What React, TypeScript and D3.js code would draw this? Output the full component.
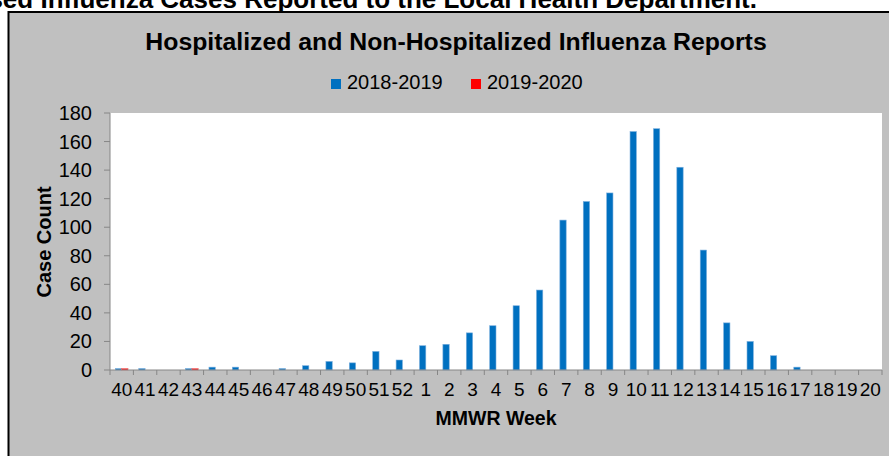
import React from "react"
import * as d3 from "d3"

const W = 889
const H = 456

const weeks = [
  "40", "41", "42", "43", "44", "45", "46", "47", "48", "49", "50", "51", "52",
  "1", "2", "3", "4", "5", "6", "7", "8", "9", "10", "11", "12", "13", "14",
  "15", "16", "17", "18", "19", "20",
]
const series = ["2018-2019", "2019-2020"]
const cases1819 = [
  1, 1, 0, 1, 2, 2, 0, 1, 3, 6, 5, 13, 7,
  17, 18, 26, 31, 45, 56, 105, 118, 124, 167, 169, 142, 84, 33,
  20, 10, 2, 0, 0, 0,
]
const cases1920 = [
  1, 0, 0, 1, 0, 0, 0, 0, 0, 0, 0, 0, 0,
  0, 0, 0, 0, 0, 0, 0, 0, 0, 0, 0, 0, 0, 0,
  0, 0, 0, 0, 0, 0,
]
const yTicks = [0, 20, 40, 60, 80, 100, 120, 140, 160, 180]
const colors = ["#0070C0", "#FF0000"]
const strokes = ["#79AEDD", "#F07070"]

const font = "'Liberation Sans', Arial, sans-serif"

export default function App() {
  const plot = { left: 110, right: 882, top: 113, bottom: 370 }
  const x = d3.scaleBand<string>()
    .domain(weeks)
    .range([plot.left, plot.right])
    .paddingInner(0.46)
    .paddingOuter(0.23)
  const step = x.step()
  const xSub = d3.scaleBand<string>().domain(series).range([0, x.bandwidth()])
  const y = d3.scaleLinear().domain([0, 180]).range([plot.bottom, plot.top])
  const values = [cases1819, cases1920]

  return (
    <svg width={W} height={H} style={{ position: "absolute", left: 0, top: 0 }} fontFamily={font}>
      <rect x={0} y={0} width={W} height={H} fill="#fff" />
      <text x={757} y={7.5} textAnchor="end" fontSize={26} fontWeight="bold" fill="#000">
        Number of Laboratory-Diagnosed Influenza Cases Reported to the Local Health Department.
      </text>
      <rect x={8.5} y={12} width={W + 20} height={H + 20} fill="#C0C0C0" stroke="#000" strokeWidth={2} />

      <text x={456} y={50} textAnchor="middle" fontSize={24.8} fontWeight="bold" fill="#000">
        Hospitalized and Non-Hospitalized Influenza Reports
      </text>

      {series.map((s, i) => (
        <g key={s} transform={`translate(${i === 0 ? 331 : 471}, 79)`}>
          <rect width={10} height={10} fill={colors[i]} />
          <text x={16} y={10} fontSize={20} fill="#000">{s}</text>
        </g>
      ))}

      <rect x={plot.left} y={plot.top} width={plot.right - plot.left} height={plot.bottom - plot.top} fill="#fff" />

      {values.map((vals, si) =>
        vals.map((v, i) =>
          v > 0 ? (
            <rect
              key={`${si}-${i}`}
              x={(x(weeks[i]) ?? 0) + (xSub(series[si]) ?? 0)}
              y={y(v)}
              width={xSub.bandwidth()}
              height={y(0) - y(v)}
              fill={colors[si]}
              stroke={strokes[si]}
              strokeWidth={0.6}
            />
          ) : null
        )
      )}

      {/* y axis */}
      <line x1={plot.left} x2={plot.left} y1={plot.top} y2={plot.bottom} stroke="#868686" strokeWidth={1} />
      {yTicks.map(t => (
        <g key={t}>
          <line x1={plot.left - 6} x2={plot.left} y1={y(t)} y2={y(t)} stroke="#868686" />
          <text x={92} y={y(t) + 7} textAnchor="end" fontSize={20} fill="#000">{t}</text>
        </g>
      ))}
      <text
        transform={`translate(51, ${242}) rotate(-90)`}
        textAnchor="middle"
        fontSize={20}
        fontWeight="bold"
        fill="#000"
      >
        Case Count
      </text>

      {/* x axis */}
      <line x1={plot.left} x2={plot.right} y1={plot.bottom} y2={plot.bottom} stroke="#868686" strokeWidth={1} />
      {weeks.map((w, i) => (
        <line
          key={`t${w}`}
          x1={plot.left + i * step}
          x2={plot.left + i * step}
          y1={plot.bottom}
          y2={plot.bottom + 5}
          stroke="#868686"
        />
      ))}
      <line x1={plot.right} x2={plot.right} y1={plot.bottom} y2={plot.bottom + 5} stroke="#868686" />
      {weeks.map(w => (
        <text
          key={`l${w}`}
          x={(x(w) ?? 0) + x.bandwidth() / 2}
          y={396}
          textAnchor="middle"
          fontSize={19}
          fill="#000"
        >
          {w}
        </text>
      ))}
      <text x={496} y={425} textAnchor="middle" fontSize={19.5} fontWeight="bold" fill="#000">
        MMWR Week
      </text>
    </svg>
  )
}
